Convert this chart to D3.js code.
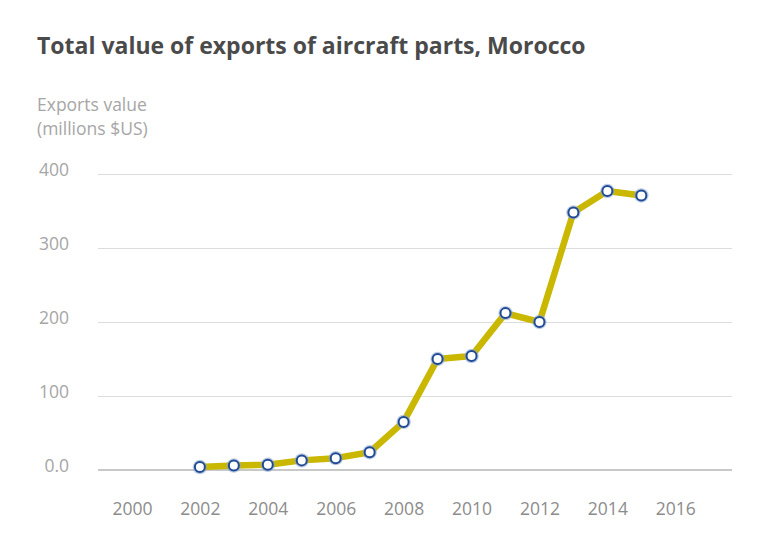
<!DOCTYPE html>
<html>
<head>
<meta charset="utf-8">
<script src="https://cdn.jsdelivr.net/npm/d3@7"></script>
<style>
  html, body { margin: 0; padding: 0; background: #fff; }
  svg { display: block; }
</style>
</head>
<body>
<svg id="chart" width="768" height="549"></svg>
<script>
const years = [2002, 2003, 2004, 2005, 2006, 2007, 2008, 2009, 2010, 2011, 2012, 2013, 2014, 2015];
const exportsValue = [4, 6, 7, 13, 16, 24, 65, 150, 154, 212, 200, 348, 377, 371];
const yTicks = [0, 100, 200, 300, 400];
const yTickLabels = ["0.0", "100", "200", "300", "400"];
const xTicks = [2000, 2002, 2004, 2006, 2008, 2010, 2012, 2014, 2016];

const svg = d3.select("#chart");
const font = "'Open Sans', 'Noto Sans', sans-serif";

svg.append("text")
  .attr("x", 37).attr("y", 54)
  .attr("font-family", font).attr("font-weight", 700)
  .attr("font-size", 23).attr("fill", "#4a4a4a")
  .text("Total value of exports of aircraft parts, Morocco");

svg.append("text")
  .attr("x", 37).attr("y", 111)
  .attr("font-family", font).attr("font-size", 17.5).attr("fill", "#a6a6a6")
  .text("Exports value");
svg.append("text")
  .attr("x", 37).attr("y", 135)
  .attr("font-family", font).attr("font-size", 17.5).attr("fill", "#a6a6a6")
  .text("(millions $US)");

const x = d3.scaleLinear().domain([1999, 2017.67]).range([98, 732]);
const y = d3.scaleLinear().domain([0, 400]).range([470, 174]);

// gridlines
const yAxis = d3.axisLeft(y).tickValues(yTicks.slice(1)).tickSize(-(732 - 98)).tickFormat("");
const gy = svg.append("g").attr("transform", "translate(98,0)").call(yAxis);
gy.select(".domain").remove();
gy.selectAll(".tick line").attr("stroke", "#dcdcdc").attr("stroke-width", 1);

// y labels
svg.append("g").selectAll("text").data(yTicks).join("text")
  .attr("x", 69).attr("y", d => y(d) + 2)
  .attr("text-anchor", "end")
  .attr("font-family", font).attr("font-size", 17.5).attr("fill", "#a6a6a6")
  .text((d, i) => yTickLabels[i]);

// baseline
svg.append("line")
  .attr("x1", 98).attr("x2", 732).attr("y1", y(0)).attr("y2", y(0))
  .attr("stroke", "#c8c8c8").attr("stroke-width", 2);

// x axis labels
const xAxis = d3.axisBottom(x).tickValues(xTicks).tickSize(0).tickPadding(0).tickFormat(d3.format("d"));
const gx = svg.append("g").attr("transform", "translate(0,515)").call(xAxis);
gx.select(".domain").remove();
gx.selectAll(".tick text")
  .attr("font-family", font).attr("font-size", 17.5).attr("fill", "#8c8c8c")
  .attr("dy", 0);

const data = years.map((yr, i) => ({ year: yr, value: exportsValue[i] }));

const line = d3.line().x(d => x(d.year)).y(d => y(d.value));
svg.append("path").datum(data)
  .attr("d", line)
  .attr("fill", "none")
  .attr("stroke", "#c9b700")
  .attr("stroke-width", 6.5)
  .attr("stroke-linejoin", "round");

const pts = svg.append("g").selectAll("g").data(data).join("g")
  .attr("transform", d => `translate(${x(d.year)},${y(d.value)})`);
pts.append("circle").attr("r", 7.2).attr("fill", "#8fa8d0").attr("opacity", 0.6);
pts.append("circle").attr("r", 5)
  .attr("fill", "#ffffff").attr("stroke", "#1f4a94").attr("stroke-width", 2);
</script>
</body>
</html>
